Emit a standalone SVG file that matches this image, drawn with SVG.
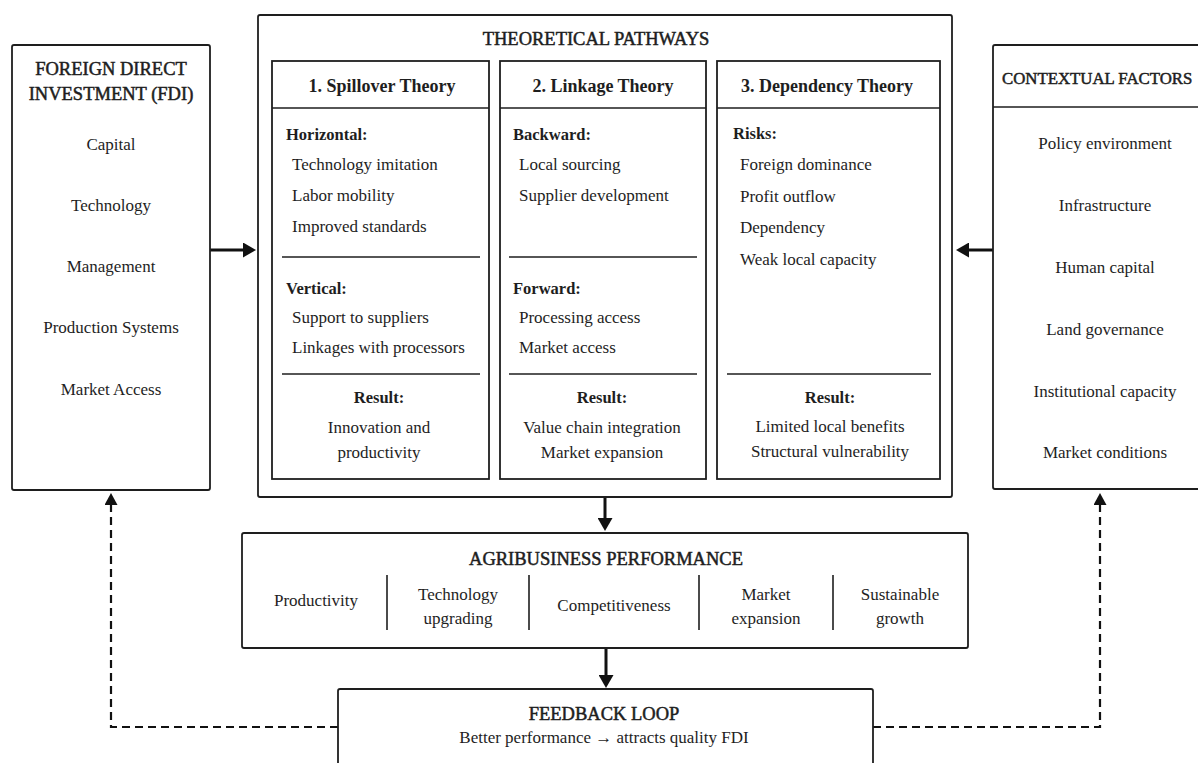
<svg xmlns="http://www.w3.org/2000/svg" width="1198" height="763" viewBox="0 0 1198 763">
<style>
.box{fill:#fff;stroke:#1e1e1e;stroke-width:1.8}
.sep{stroke:#1e1e1e;stroke-width:1.6;fill:none}
.t{font-family:"Liberation Serif","Times New Roman",serif;font-size:17px;fill:#1e1e1e}
.c{text-anchor:middle}
.ti{font-size:18.5px;stroke:#1e1e1e;stroke-width:0.5}
.hd{font-size:18px;font-weight:bold}
.lb{font-size:16.5px;font-weight:bold}
.arr{stroke:#111;stroke-width:3;fill:none}
.dash{stroke:#111;stroke-width:2.2;fill:none;stroke-dasharray:8 5}
</style>
<defs>
<marker id="ah" markerWidth="13" markerHeight="15" refX="1" refY="7.5" orient="auto" markerUnits="userSpaceOnUse">
<path d="M0,0 L13,7.5 L0,15 z" fill="#111"/>
</marker>
<marker id="ahd" markerWidth="12" markerHeight="13" refX="1" refY="6.5" orient="auto" markerUnits="userSpaceOnUse">
<path d="M0,0 L12,6.5 L0,13 z" fill="#111"/>
</marker>
</defs>
<rect width="1198" height="763" fill="#fff"/>

<g id="connectors">
<line class="arr" x1="210" y1="250" x2="244" y2="250" marker-end="url(#ah)"/>
<line class="arr" x1="993" y1="250" x2="968" y2="250" marker-end="url(#ah)"/>
<line class="arr" x1="605" y1="497" x2="605" y2="519" marker-end="url(#ah)"/>
<line class="arr" x1="606" y1="648" x2="606" y2="676" marker-end="url(#ah)"/>
<path class="dash" d="M338,727 H111 V504" marker-end="url(#ahd)"/>
<path class="dash" d="M873,727 H1100 V504" marker-end="url(#ahd)"/>
</g>

<g id="fdi">
<rect class="box" x="12" y="45" width="198" height="445" rx="2"/>
<text class="t c ti" x="111" y="75">FOREIGN DIRECT</text>
<text class="t c ti" x="111" y="100">INVESTMENT (FDI)</text>
<text class="t c" x="111" y="150">Capital</text>
<text class="t c" x="111" y="211">Technology</text>
<text class="t c" x="111" y="272">Management</text>
<text class="t c" x="111" y="333">Production Systems</text>
<text class="t c" x="111" y="395">Market Access</text>
</g>

<g id="pathways">
<rect class="box" x="258" y="15" width="694" height="482" rx="2"/>
<text class="t c ti" x="596" y="45">THEORETICAL PATHWAYS</text>
</g>

<g id="spillover">
<rect class="box" x="272" y="61" width="217" height="418"/>
<line class="sep" x1="272" y1="108" x2="489" y2="108"/>
<text class="t c hd" x="382" y="92">1. Spillover Theory</text>
<text class="t lb" x="286" y="140">Horizontal:</text>
<text class="t" x="292" y="170">Technology imitation</text>
<text class="t" x="292" y="201">Labor mobility</text>
<text class="t" x="292" y="232">Improved standards</text>
<line class="sep" x1="282" y1="257" x2="480" y2="257"/>
<text class="t lb" x="286" y="294">Vertical:</text>
<text class="t" x="292" y="323">Support to suppliers</text>
<text class="t" x="292" y="353">Linkages with processors</text>
<line class="sep" x1="282" y1="374" x2="480" y2="374"/>
<text class="t c lb" x="379" y="403">Result:</text>
<text class="t c" x="379" y="433">Innovation and</text>
<text class="t c" x="379" y="458">productivity</text>
</g>

<g id="linkage">
<rect class="box" x="500" y="61" width="206" height="418"/>
<line class="sep" x1="500" y1="108" x2="706" y2="108"/>
<text class="t c hd" x="603" y="92">2. Linkage Theory</text>
<text class="t lb" x="513" y="140">Backward:</text>
<text class="t" x="519" y="170">Local sourcing</text>
<text class="t" x="519" y="201">Supplier development</text>
<line class="sep" x1="509" y1="257" x2="697" y2="257"/>
<text class="t lb" x="513" y="294">Forward:</text>
<text class="t" x="519" y="323">Processing access</text>
<text class="t" x="519" y="353">Market access</text>
<line class="sep" x1="509" y1="374" x2="697" y2="374"/>
<text class="t c lb" x="602" y="403">Result:</text>
<text class="t c" x="602" y="433">Value chain integration</text>
<text class="t c" x="602" y="458">Market expansion</text>
</g>

<g id="dependency">
<rect class="box" x="717" y="61" width="223" height="418"/>
<line class="sep" x1="717" y1="108" x2="940" y2="108"/>
<text class="t c hd" x="827" y="92">3. Dependency Theory</text>
<text class="t lb" x="733" y="139">Risks:</text>
<text class="t" x="740" y="170">Foreign dominance</text>
<text class="t" x="740" y="202">Profit outflow</text>
<text class="t" x="740" y="233">Dependency</text>
<text class="t" x="740" y="265">Weak local capacity</text>
<line class="sep" x1="727" y1="374" x2="931" y2="374"/>
<text class="t c lb" x="830" y="403">Result:</text>
<text class="t c" x="830" y="432">Limited local benefits</text>
<text class="t c" x="830" y="457">Structural vulnerability</text>
</g>

<g id="contextual">
<rect class="box" x="993" y="45" width="240" height="444" rx="2"/>
<line class="sep" x1="993" y1="107" x2="1233" y2="107"/>
<text class="t ti" x="1002" y="84" style="font-size:16.8px">CONTEXTUAL FACTORS</text>
<text class="t c" x="1105" y="149">Policy environment</text>
<text class="t c" x="1105" y="211">Infrastructure</text>
<text class="t c" x="1105" y="273">Human capital</text>
<text class="t c" x="1105" y="335">Land governance</text>
<text class="t c" x="1105" y="397">Institutional capacity</text>
<text class="t c" x="1105" y="458">Market conditions</text>
</g>

<g id="performance">
<rect class="box" x="242" y="533" width="726" height="115" rx="2"/>
<text class="t c ti" x="606" y="565">AGRIBUSINESS PERFORMANCE</text>
<line class="sep" x1="387" y1="575" x2="387" y2="630"/>
<line class="sep" x1="529" y1="575" x2="529" y2="630"/>
<line class="sep" x1="699" y1="575" x2="699" y2="630"/>
<line class="sep" x1="833" y1="575" x2="833" y2="630"/>
<text class="t c" x="316" y="606">Productivity</text>
<text class="t c" x="458" y="600">Technology</text>
<text class="t c" x="458" y="624">upgrading</text>
<text class="t c" x="614" y="611">Competitiveness</text>
<text class="t c" x="766" y="600">Market</text>
<text class="t c" x="766" y="624">expansion</text>
<text class="t c" x="900" y="600">Sustainable</text>
<text class="t c" x="900" y="624">growth</text>
</g>

<g id="feedback">
<rect class="box" x="338" y="689" width="535" height="90" rx="2"/>
<text class="t c ti" x="604" y="720">FEEDBACK LOOP</text>
<text class="t c" x="604" y="743">Better performance → attracts quality FDI</text>
</g>
</svg>
